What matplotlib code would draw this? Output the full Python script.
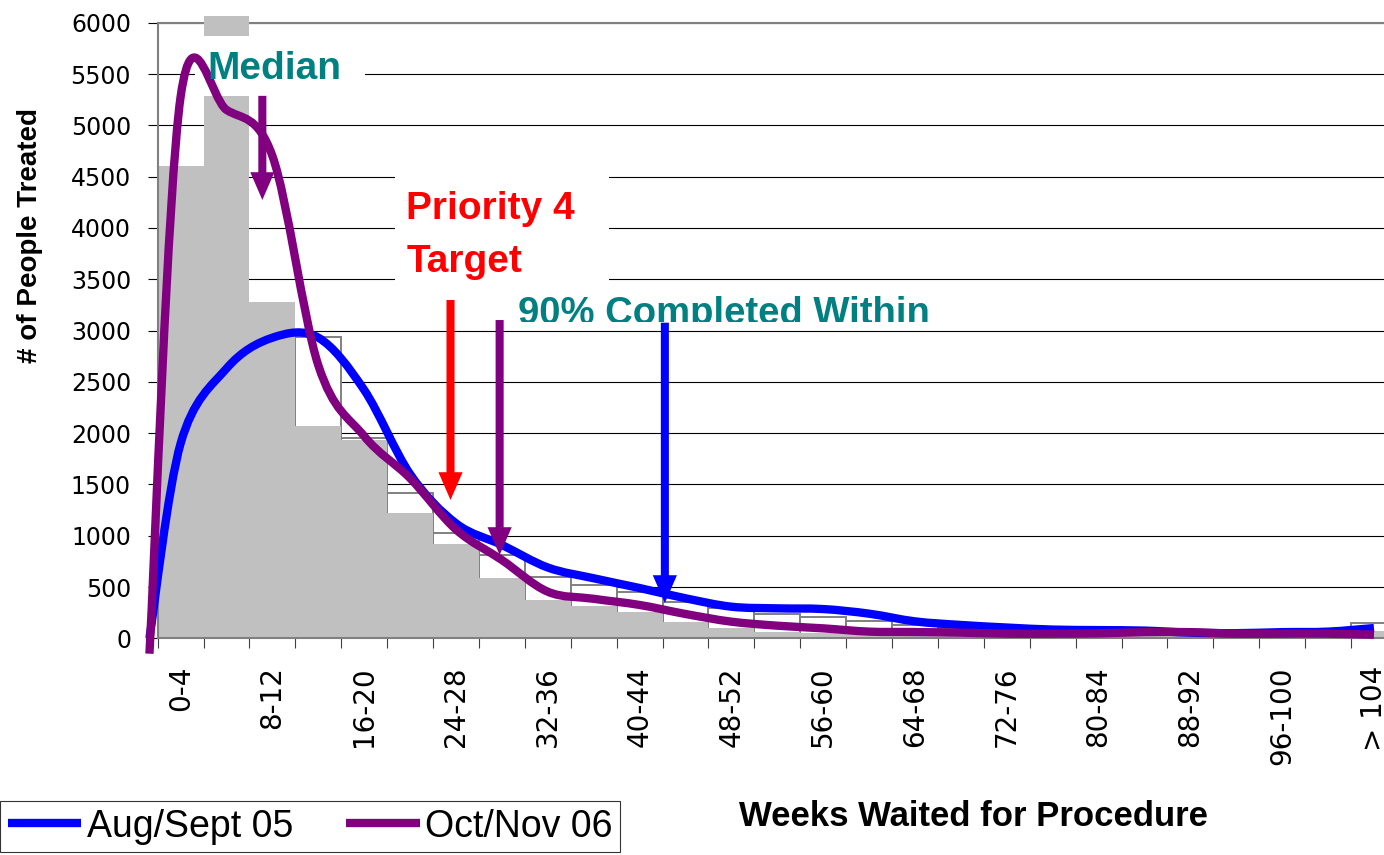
import numpy as np
import matplotlib
matplotlib.use("Agg")
import matplotlib.pyplot as plt
from matplotlib.path import Path
from matplotlib.patches import PathPatch, Rectangle
from matplotlib.lines import Line2D
from matplotlib.transforms import Bbox, TransformedBbox

plt.rcParams['font.family'] = ['Liberation Sans', 'DejaVu Sans']

# ---- data ----
categories = ['0-4', '4-8', '8-12', '12-16', '16-20', '20-24', '24-28', '28-32',
              '32-36', '36-40', '40-44', '44-48', '48-52', '52-56', '56-60',
              '60-64', '64-68', '68-72', '72-76', '76-80', '80-84', '84-88',
              '88-92', '92-96', '96-100', '100-104', '> 104']

# histogram bars (white outlined = Aug/Sept 05, grey filled = Oct/Nov 06)
aug_bars = [2000, 2700, 3000, 2940, 1950, 1420, 1030, 810, 600, 515, 455, 357,
            292, 237, 210, 170, 130, 100, 80, 60, 60, 55, 45, 40, 40, 40, 150]
oct_bars = [4600, 6065, 3280, 2070, 1930, 1225, 920, 585, 375, 310, 260, 162,
            97, 65, 51, 45, 40, 35, 30, 30, 25, 30, 30, 20, 20, 20, 70]

# smoothed lines; the first point sits just left of the first bin
line_x0 = -0.68
aug_start = 0
aug_line = [1900, 2630, 2930, 2930, 2420, 1600, 1120, 910, 690, 585, 490, 390,
            308, 292, 285, 240, 165, 130, 105, 85, 80, 75, 55, 50, 60, 65, 100]
oct_start = -150
oct_line = [5280, 5150, 4700, 2660, 1970, 1560, 1060, 763, 454, 385, 325, 237,
            162, 123, 97, 65, 61, 55, 45, 45, 48, 60, 60, 45, 45, 45, 35]

# arrows: (x position in bins, top value, tip value, colour)
arrows = [(1.78, 5287, 4272, '#800080'),   # median
          (5.88, 3297, 1348, '#FF0000'),   # priority 4 target
          (6.95, 3102, 812, '#800080'),    # 90% Oct/Nov 06
          (10.55, 3076, 344, '#0000FF')]   # 90% Aug/Sept 05

BLUE = '#0000FF'
PURPLE = '#800080'
TEAL = '#008080'
GREY = '#C0C0C0'


def smooth_path(xs, ys):
    # Catmull-Rom style bezier like the spreadsheet's "smoothed line"
    pts = np.column_stack([xs, ys]).astype(float)
    n = len(pts)
    verts = [pts[0]]
    codes = [Path.MOVETO]
    for i in range(n - 1):
        p0 = pts[max(i - 1, 0)]
        p1 = pts[i]
        p2 = pts[i + 1]
        p3 = pts[min(i + 2, n - 1)]
        verts += [p1 + (p2 - p0) / 6.0, p2 - (p3 - p1) / 6.0, p2]
        codes += [Path.CURVE4] * 3
    return Path(verts, codes)


fig = plt.figure(figsize=(13.84, 8.55), dpi=100)
ax = fig.add_axes([0.11394, 0.25345, 0.89539, 0.72])

x = np.arange(len(categories))
ax.bar(x, aug_bars, width=1.0, color='white', edgecolor='#808080', linewidth=1.4, zorder=1)
gbars = ax.bar(x, oct_bars, width=1.0, color=GREY, linewidth=0, zorder=2)
for b in gbars:
    b.set_clip_on(False)

xs = np.concatenate([[line_x0], x])
ax.add_patch(PathPatch(smooth_path(xs, [aug_start] + aug_line), fill=False,
                       edgecolor=BLUE, lw=6, capstyle='butt', joinstyle='round',
                       clip_on=False, zorder=6))
ax.add_patch(PathPatch(smooth_path(xs, [oct_start] + oct_line), fill=False,
                       edgecolor=PURPLE, lw=6, capstyle='butt', joinstyle='round',
                       clip_on=False, zorder=6))

ax.set_xlim(-0.5, len(categories) - 0.5)
ax.set_ylim(0, 6000)
ax.set_yticks(np.arange(0, 6001, 500))
ax.yaxis.grid(True, color='black', lw=0.8)
ax.set_axisbelow(True)

ax.set_xticks(np.arange(len(categories) + 1) - 0.5, labels=[])
ax.set_xticks(x[::2], labels=categories[::2], minor=True)
ax.tick_params(axis='x', which='major', length=7.5, width=0.8, color='#404040', direction='out')
ax.tick_params(axis='x', which='minor', length=0, pad=20, labelrotation=90)
ax.tick_params(axis='y', length=7.2, width=0.8, color='black', pad=12)
for lab in ax.get_xticklabels(minor=True) + ax.get_yticklabels():
    lab.set_fontfamily('DejaVu Sans')
    lab.set_fontsize(17)
for lab in ax.get_xticklabels(minor=True):
    lab.set_fontsize(20)

for side in ['left', 'bottom', 'top']:
    ax.spines[side].set_color('#808080')
    ax.spines[side].set_linewidth(1.5)
ax.spines['right'].set_visible(False)
ax.spines['top'].set_zorder(1.5)
ax.spines['left'].set_zorder(4)
ax.spines['bottom'].set_zorder(4)

# white boxes of the text labels, hiding grid and bars behind them
for (bx0, by0, bx1, by1) in [(0.31, 5287, 4.02, 5870),
                             (4.68, 3395, 9.33, 4760),
                             (7.19, 3086, 16.75, 3474)]:
    ax.add_patch(Rectangle((bx0, by0), bx1 - bx0, by1 - by0, facecolor='white',
                           edgecolor='none', zorder=3))

for (ax_x, top, tip, col) in arrows:
    ax.annotate('', xy=(ax_x, tip), xytext=(ax_x, top),
                arrowprops=dict(arrowstyle='simple,head_length=1.0,head_width=0.87,tail_width=0.29',
                                mutation_scale=20, color=col, lw=0,
                                shrinkA=0, shrinkB=0),
                zorder=7, annotation_clip=False)

ax.text(0.58, 5451, 'Median', color=TEAL, fontsize=28, fontweight='bold',
        va='baseline', ha='left', zorder=8)
ax.text(4.92, 4084, 'Priority 4', color='#FF0000', fontsize=28, fontweight='bold',
        va='baseline', ha='left', zorder=8)
ax.text(4.92, 3573, 'Target', color='#FF0000', fontsize=28, fontweight='bold',
        va='baseline', ha='left', zorder=8)
t90 = ax.text(7.35, 3063, '90% Completed Within', color=TEAL, fontsize=27.5,
              fontweight='bold', va='baseline', ha='left', zorder=8)
t90.set_clip_on(True)
t90.set_clip_box(TransformedBbox(Bbox([[7.19, 3086], [16.75, 3600]]), ax.transData))

fig.text(0.0217, 0.724, '# of People Treated', rotation=90, fontsize=20,
         fontweight='bold', ha='center', va='center')
fig.text(0.7034, 0.0339, 'Weeks Waited for Procedure', fontsize=25,
         fontweight='bold', ha='center', va='baseline')

handles = [Line2D([], [], color=BLUE, lw=6, solid_capstyle='butt'),
           Line2D([], [], color=PURPLE, lw=6, solid_capstyle='butt')]
leg = fig.legend(handles, ['Aug/Sept 05', 'Oct/Nov 06'], loc='upper left',
                 bbox_to_anchor=(0.0, 1 - 801 / 855), bbox_transform=fig.transFigure,
                 ncol=2, fontsize=27, frameon=True, fancybox=False, edgecolor='black',
                 borderaxespad=0, borderpad=0.2, handlelength=1.97, handletextpad=0.15,
                 columnspacing=1.4)
leg.get_frame().set_linewidth(0.8)

fig.savefig('out.png', dpi=100)
